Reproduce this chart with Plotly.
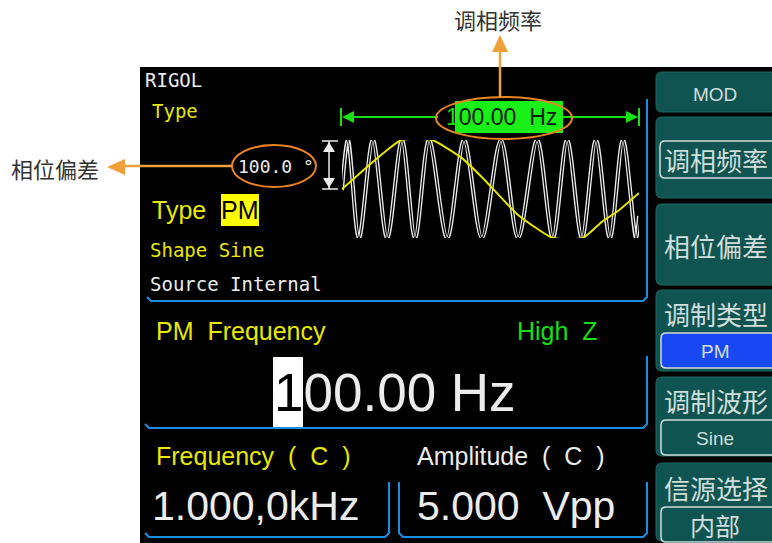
import plotly.graph_objects as go

# ---- waveform data (time in ms over the 10 ms display, amplitude normalised) ----
carrier_t = [0.0, 0.20, 0.57, 1.04, 1.52, 2.02, 2.46, 2.93, 3.54, 4.11, 4.71,
             5.35, 5.93, 6.57, 7.10, 7.58, 8.08, 8.55, 9.02, 9.46, 9.90, 10.0]
carrier_v = [-0.02, 1, -1, 1, -1, 1, -1, 1, -1, 1, -1,
             1, -1, 1, -1, 1, -1, 1, -1, 1, -1, -0.55]
mod_t = [0.0, 0.88, 1.45, 1.99, 3.03, 4.04, 4.81, 5.93, 7.10, 8.11, 8.75, 9.29, 10.0]
mod_v = [0.0, 0.47, 0.76, 1.0, 1.0, 0.63, 0.18, -0.53, -1.0, -1.0, -0.67, -0.45, -0.08]

# ---- texts shown on the screen ----
top_callout = "调相频率"
left_callout = "相位偏差"
brand = "RIGOL"
phase_text = "100.0 °"
mod_type = "PM"
mod_shape = "Shape Sine"
mod_source = "Source Internal"
param_name = "PM  Frequency"
load_text = "High  Z"
param_value = "100.00 Hz"
small_value = "100.00  Hz"
freq_label = "Frequency  (  C  )"
amp_label = "Amplitude  (  C  )"
freq_value = "1.000,0kHz"
amp_value = "5.000  Vpp"
menu_title = "MOD"
menu_items = ["调相频率", "相位偏差", "调制类型", "调制波形", "信源选择"]
menu_values = [None, None, "PM", "Sine", "内部"]

W, H = 772, 543
MONO = "DejaVu Sans Mono"
SANS = "Liberation Sans"
CJK = "Noto Sans CJK SC"
YELLOW = "#e8e800"
WHITE = "#ececec"
GREEN = "#14e014"
BLUE_LINE = "#1c8ee0"
TEAL = "#0f5450"
MENU_TXT = "#d0dede"
ORANGE = "#f0a038"
ORANGE_RING = "#ea8420"


def rrect(x0, y0, x1, y1, r):
    return (f"M {x0+r} {y0} L {x1-r} {y0} Q {x1} {y0} {x1} {y0+r} "
            f"L {x1} {y1-r} Q {x1} {y1} {x1-r} {y1} L {x0+r} {y1} "
            f"Q {x0} {y1} {x0} {y1-r} L {x0} {y0+r} Q {x0} {y0} {x0+r} {y0} Z")


shapes = []
annots = []


def add_shape(**kw):
    kw.setdefault("xref", "x")
    kw.setdefault("yref", "y")
    shapes.append(kw)


def text(x, y, s, size, color, family, anchor="left"):
    annots.append(dict(x=x, y=y, xref="x", yref="y", text=s, showarrow=False,
                       xanchor=anchor, yanchor="middle",
                       font=dict(size=size, color=color, family=family)))


# screen background
add_shape(type="rect", x0=140, y0=67, x1=W, y1=H, fillcolor="black",
          line_width=0, layer="below")

# menu buttons on the right
btn_spans = [(72, 112), (117, 198), (204, 285), (290, 371), (377, 456), (463, 541)]
for y0, y1 in btn_spans:
    add_shape(type="path", path=rrect(656, y0, W + 10, y1, 6), fillcolor=TEAL,
              line=dict(color="#1d6a66", width=1), layer="below")

text(715, 94, menu_title, 19, MENU_TXT, SANS, "center")
label_y = [None, 245, 313, 400, 487]
for i, (lab, val) in enumerate(zip(menu_items, menu_values)):
    if i == 0:
        add_shape(type="path", path=rrect(660, 141, W + 10, 178, 5), fillcolor=TEAL,
                  line=dict(color="#d0dcdc", width=1.5), layer="below")
        text(716, 159, lab, 26, MENU_TXT, CJK, "center")
        continue
    text(716, label_y[i], lab, 26, MENU_TXT, CJK, "center")
    if val is not None:
        by0 = label_y[i] + 20
        fill = "#1848f4" if val == mod_type else TEAL
        add_shape(type="path", path=rrect(661, by0, W + 10, by0 + 35, 5), fillcolor=fill,
                  line=dict(color="#d0dcdc", width=1.5), layer="below")
        size = 25 if val == "内部" else 19
        fam = CJK if val == "内部" else SANS
        text(715, by0 + 18, val, size, MENU_TXT, fam, "center")

# blue panel outlines
blue = dict(color=BLUE_LINE, width=2)
add_shape(type="path", path="M 147 297 L 151 301 L 643 301 L 647 297 L 647 99", line=blue)
add_shape(type="path", path="M 145 424 L 149 428 L 643 428 L 647 424 L 647 356", line=blue)
add_shape(type="path", path="M 145 533 L 149 537 L 385 537 L 389 533 L 389 482", line=blue)
add_shape(type="path", path="M 399 482 L 399 533 L 403 537 L 643 537 L 647 533 L 647 482", line=blue)

# green span arrow over the waveform
gl = dict(color=GREEN, width=2)
add_shape(type="line", x0=353, y0=117, x1=438, y1=117, line=gl)
add_shape(type="line", x0=563, y0=117, x1=627, y1=117, line=gl)
add_shape(type="line", x0=341, y0=108, x1=341, y1=126, line=gl)
add_shape(type="line", x0=639, y0=108, x1=639, y1=126, line=gl)
add_shape(type="path", path="M 342 117 L 354 111 L 354 123 Z", fillcolor=GREEN, line_width=0)
add_shape(type="path", path="M 638 117 L 626 111 L 626 123 Z", fillcolor=GREEN, line_width=0)
add_shape(type="rect", x0=455, y0=101, x1=563, y1=133, fillcolor="#18f018", line_width=0)

# white amplitude double arrow
wl = dict(color=WHITE, width=1.5)
add_shape(type="line", x0=329, y0=141, x1=329, y1=189, line=wl)
add_shape(type="line", x0=322, y0=141, x1=338, y1=141, line=wl)
add_shape(type="line", x0=322, y0=189, x1=338, y1=189, line=wl)
add_shape(type="path", path="M 329 142 L 323 152 L 335 152 Z", fillcolor=WHITE, line_width=0)
add_shape(type="path", path="M 329 188 L 323 178 L 335 178 Z", fillcolor=WHITE, line_width=0)

# highlights behind text
add_shape(type="rect", x0=221, y0=194, x1=259, y1=226, fillcolor="#ffff00", line_width=0)
add_shape(type="rect", x0=273, y0=357, x1=303, y1=427, fillcolor="white", line_width=0)

# orange callouts
add_shape(type="circle", x0=436, y0=97, x1=572, y1=139,
          line=dict(color=ORANGE_RING, width=2))
add_shape(type="circle", x0=232, y0=145, x1=316, y1=187,
          line=dict(color=ORANGE_RING, width=2))
add_shape(type="line", x0=500, y0=97, x1=500, y1=50, line=dict(color=ORANGE, width=2.5))
add_shape(type="path", path="M 500 35 L 492 52 L 508 52 Z", fillcolor=ORANGE, line_width=0)
add_shape(type="line", x0=232, y0=166, x1=122, y1=166, line=dict(color=ORANGE, width=2.5))
add_shape(type="path", path="M 107 167 L 125 159 L 125 175 Z", fillcolor=ORANGE, line_width=0)

# texts
text(498, 19, top_callout, 22, "#333333", CJK, "center")
text(55, 168, left_callout, 22, "#333333", CJK, "center")
text(143, 80, brand, 19, WHITE, MONO)
text(150, 111, "Type", 19, YELLOW, MONO)
text(236, 166, phase_text, 18, WHITE, MONO)
text(150, 210, "Type", 25, YELLOW, SANS)
text(240, 210, mod_type, 25, "black", SANS, "center")
text(148, 250, mod_shape, 19, YELLOW, MONO)
text(148, 284, mod_source, 19, WHITE, MONO)
text(154, 331, param_name, 25, YELLOW, SANS)
text(515, 331, load_text, 25, GREEN, SANS)
text(272, 392, f'<span style="color:black">{param_value[0]}</span>{param_value[1:]}',
     53, WHITE, SANS)
text(154, 456, freq_label, 25, YELLOW, SANS)
text(415, 456, amp_label, 25, WHITE, SANS)
text(150, 506, freq_value, 41, WHITE, SANS)
text(415, 506, amp_value, 41, WHITE, SANS)
text(444, 117, f'<span style="color:{GREEN}">{small_value[0]}</span>{small_value[1:]}',
     23, "#062006", SANS)

fig = go.Figure()
fig.add_trace(go.Scatter(x=carrier_t, y=carrier_v, mode="lines", xaxis="x2", yaxis="y2",
                         line=dict(color=WHITE, width=4, shape="spline", smoothing=0.9),
                         hoverinfo="skip"))
fig.add_trace(go.Scatter(x=carrier_t, y=carrier_v, mode="lines", xaxis="x2", yaxis="y2",
                         line=dict(color="black", width=1.3, shape="spline", smoothing=0.9),
                         hoverinfo="skip"))
fig.add_trace(go.Scatter(x=mod_t, y=mod_v, mode="lines", xaxis="x2", yaxis="y2",
                         line=dict(color="#e6e600", width=2, shape="spline", smoothing=0.5),
                         hoverinfo="skip"))

fig.update_layout(
    width=W, height=H,
    margin=dict(l=0, r=0, t=0, b=0),
    paper_bgcolor="white", plot_bgcolor="rgba(0,0,0,0)",
    showlegend=False,
    xaxis=dict(range=[0, W], visible=False, domain=[0, 1], fixedrange=True),
    yaxis=dict(range=[H, 0], visible=False, domain=[0, 1], fixedrange=True),
    xaxis2=dict(range=[0, 10], visible=False, domain=[342 / W, 639 / W],
                anchor="y2", fixedrange=True),
    yaxis2=dict(range=[-1, 1], visible=False, domain=[1 - 238 / H, 1 - 140 / H],
                anchor="x2", fixedrange=True),
    shapes=shapes,
    annotations=annots,
)

fig.write_html("out.html", config=dict(displayModeBar=False),
               post_script="document.body.style.margin='0';")
